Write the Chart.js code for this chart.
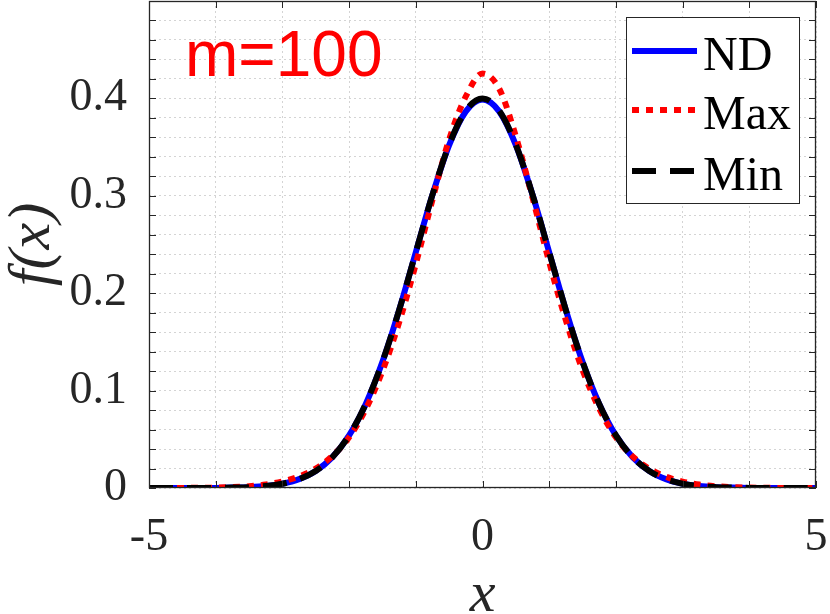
<!DOCTYPE html>
<html>
<head>
<meta charset="utf-8">
<script src="https://cdn.jsdelivr.net/npm/chart.js@4.4.0/dist/chart.umd.min.js"></script>
<style>
  html, body { margin: 0; padding: 0; background: #fff; }
</style>
</head>
<body>
<canvas id="myChart" width="830" height="614"></canvas>
<script>
// x positions of the samples
var xs = [-5, -4.75, -4.5, -4.25, -4, -3.75, -3.5, -3.25, -3, -2.75, -2.5, -2.25, -2, -1.75, -1.5, -1.25, -1, -0.75, -0.5, -0.25,
          0, 0.25, 0.5, 0.75, 1, 1.25, 1.5, 1.75, 2, 2.25, 2.5, 2.75, 3, 3.25, 3.5, 3.75, 4, 4.25, 4.5, 4.75, 5];

var ndValues = [0, 0, 0, 0, 0.0001, 0.0004, 0.0009, 0.0020, 0.0044, 0.0091, 0.0175, 0.0317, 0.0540, 0.0863, 0.1295, 0.1826, 0.2420, 0.3011, 0.3521, 0.3867,
                0.3989, 0.3867, 0.3521, 0.3011, 0.2420, 0.1826, 0.1295, 0.0863, 0.0540, 0.0317, 0.0175, 0.0091, 0.0044, 0.0020, 0.0009, 0.0004, 0.0001, 0, 0, 0, 0];

var maxValues = [0, 0, 0.0001, 0.0002, 0.0004, 0.0009, 0.0018, 0.0036, 0.0067, 0.0118, 0.0200, 0.0330, 0.0520, 0.0810, 0.1200, 0.1700, 0.2300, 0.2960, 0.3580, 0.4020,
                 0.4255, 0.4100, 0.3610, 0.2980, 0.2320, 0.1720, 0.1210, 0.0815, 0.0520, 0.0325, 0.0198, 0.0116, 0.0066, 0.0035, 0.0018, 0.0009, 0.0004, 0.0002, 0.0001, 0, 0];

var minValues = [0, 0, 0, 0, 0.0001, 0.0004, 0.0009, 0.0020, 0.0044, 0.0091, 0.0175, 0.0317, 0.0540, 0.0863, 0.1295, 0.1826, 0.2420, 0.3012, 0.3525, 0.3875,
                 0.4000, 0.3875, 0.3525, 0.3012, 0.2420, 0.1826, 0.1295, 0.0863, 0.0540, 0.0317, 0.0175, 0.0091, 0.0044, 0.0020, 0.0009, 0.0004, 0.0001, 0, 0, 0, 0];

var seriesNames = ['ND', 'Max', 'Min'];
var xTickLabels = [-5, 0, 5];
var yTickLabels = [0, 0.1, 0.2, 0.3, 0.4];

function toPoints(values){
  return xs.map(function(x, i){ return {x: x, y: values[i]}; });
}

var axisColor = '#262626';
var serif = "'Liberation Serif', 'Times New Roman', serif";

// box, inward ticks, text label and legend
var decorations = {
  id: 'decorations',
  afterDraw: function(chart){
    var ctx = chart.ctx;
    var a = chart.chartArea;
    var xScale = chart.scales.x, yScale = chart.scales.y;
    ctx.save();

    // inward tick marks
    ctx.strokeStyle = axisColor;
    ctx.lineWidth = 1;
    ctx.beginPath();
    yScale.ticks.forEach(function(t){
      var py = Math.round(yScale.getPixelForValue(t.value)) + 0.5;
      ctx.moveTo(a.left, py); ctx.lineTo(a.left + 7, py);
      ctx.moveTo(a.right, py); ctx.lineTo(a.right - 7, py);
    });
    xScale.ticks.forEach(function(t){
      var px = Math.round(xScale.getPixelForValue(t.value)) + 0.5;
      ctx.moveTo(px, a.bottom); ctx.lineTo(px, a.bottom - 7);
      ctx.moveTo(px, a.top); ctx.lineTo(px, a.top + 7);
    });
    ctx.stroke();

    // box
    ctx.lineWidth = 1.3;
    ctx.strokeRect(a.left + 0.5, a.top + 0.5, a.right - a.left - 1, a.bottom - a.top - 1);

    // m=100
    ctx.fillStyle = '#ff0000';
    ctx.font = "64px 'Liberation Sans', Arial, sans-serif";
    ctx.textAlign = 'left';
    ctx.textBaseline = 'alphabetic';
    ctx.fillText('m=100', 185, 76);

    // legend
    var lx = 626, ly = 17, lw = 173, lh = 186;
    ctx.fillStyle = '#ffffff';
    ctx.fillRect(lx, ly, lw, lh);
    ctx.strokeStyle = axisColor;
    ctx.lineWidth = 1;
    ctx.strokeRect(lx + 0.5, ly + 0.5, lw, lh);
    var rows = [51, 110, 171];
    var legendOrder = [0, 1, 2];
    legendOrder.forEach(function(di, r){
      var ds = chart.data.datasets[di];
      ctx.strokeStyle = ds.borderColor;
      ctx.lineWidth = ds.borderWidth;
      ctx.setLineDash(ds.borderDash || []);
      ctx.beginPath();
      ctx.moveTo(632, rows[r]);
      ctx.lineTo(697, rows[r]);
      ctx.stroke();
      ctx.setLineDash([]);
      ctx.fillStyle = '#000000';
      ctx.font = '48px ' + serif;
      ctx.fillText(ds.label, 703, rows[r] + 19);
    });
    ctx.restore();
  }
};

function noEdgePadding(scale){
  scale.paddingTop = 0;
  scale.paddingBottom = 0;
  scale.paddingLeft = 0;
  scale.paddingRight = 0;
}

Chart.defaults.color = axisColor;

var myChart = new Chart(document.getElementById('myChart'), {
  type: 'line',
  data: {
    datasets: [
      {
        label: seriesNames[0],
        data: toPoints(ndValues),
        borderColor: '#0000ff',
        borderWidth: 6,
        order: 3
      },
      {
        label: seriesNames[1],
        data: toPoints(maxValues),
        borderColor: '#ff0000',
        borderWidth: 6,
        borderDash: [7, 7],
        order: 2
      },
      {
        label: seriesNames[2],
        data: toPoints(minValues),
        borderColor: '#000000',
        borderWidth: 6,
        borderDash: [24, 14],
        order: 1
      }
    ]
  },
  options: {
    responsive: false,
    animation: false,
    devicePixelRatio: 1,
    elements: {
      point: { radius: 0 },
      line: { tension: 0.4, cubicInterpolationMode: 'monotone', borderCapStyle: 'butt' }
    },
    layout: { padding: { top: 1, right: 14, left: 0, bottom: 0 } },
    plugins: {
      legend: { display: false },
      tooltip: { enabled: false }
    },
    scales: {
      x: {
        type: 'linear',
        min: -5,
        max: 5,
        afterFit: function(scale){ scale.height = 126; noEdgePadding(scale); },
        ticks: {
          stepSize: 1,
          autoSkip: false,
          maxRotation: 0,
          padding: 22,
          color: axisColor,
          font: { family: serif, size: 46 },
          callback: function(v){ return xTickLabels.indexOf(v) >= 0 ? String(v) : ''; }
        },
        grid: { color: '#d4d4d4', lineWidth: 1, drawTicks: false },
        border: { display: false, dash: [2, 3] },
        title: {
          display: true,
          text: 'x',
          color: axisColor,
          font: { family: serif, size: 58, style: 'italic', lineHeight: 0.62 },
          padding: { top: 0, bottom: 0 }
        }
      },
      y: {
        min: 0,
        max: 0.5,
        afterFit: function(scale){ scale.width = 149; noEdgePadding(scale); },
        ticks: {
          stepSize: 0.02,
          autoSkip: false,
          padding: 22,
          color: axisColor,
          font: { family: serif, size: 46 },
          callback: function(v){
            for (var i = 0; i < yTickLabels.length; i++) {
              if (Math.abs(v - yTickLabels[i]) < 1e-6) return yTickLabels[i] === 0 ? '0' : yTickLabels[i].toFixed(1);
            }
            return '';
          }
        },
        grid: { color: '#d4d4d4', lineWidth: 1, drawTicks: false },
        border: { display: false, dash: [2, 3] },
        title: {
          display: true,
          text: 'f(x)',
          color: axisColor,
          font: { family: serif, size: 60, style: 'italic', lineHeight: 1.1 },
          padding: { top: 0, bottom: 0 }
        }
      }
    }
  },
  plugins: [decorations]
});
</script>
</body>
</html>
